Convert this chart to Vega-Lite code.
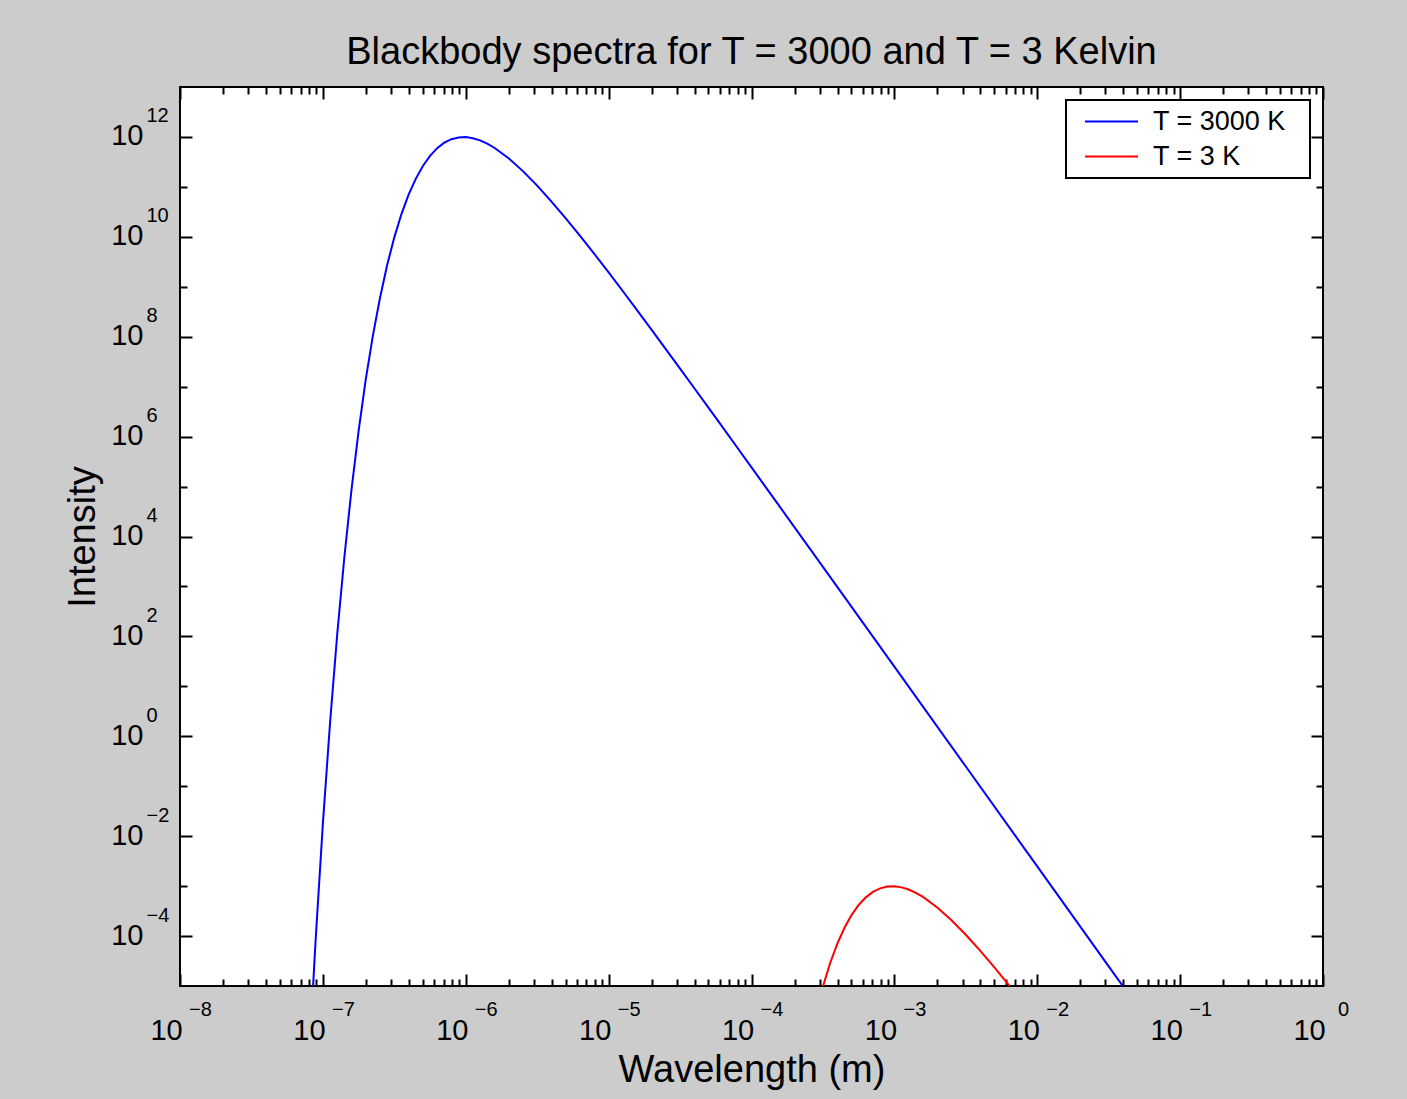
{
  "$schema": "https://vega.github.io/schema/vega-lite/v6.json",
  "width": 1143,
  "height": 899,
  "autosize": {"type": "none"},
  "padding": {"left": 180, "top": 87, "right": 84, "bottom": 113},
  "background": "#cccccc",
  "title": {
    "text": "Blackbody spectra for T = 3000 and T = 3 Kelvin",
    "font": "Liberation Sans",
    "fontSize": 38,
    "fontWeight": "normal",
    "color": "black",
    "anchor": "middle",
    "frame": "group",
    "baseline": "alphabetic",
    "offset": -16
  },
  "config": {
    "view": {"stroke": "black", "strokeWidth": 2, "fill": "white"},
    "axis": {
      "grid": false,
      "domain": false,
      "labelFont": "Liberation Sans",
      "labelColor": "black",
      "titleFont": "Liberation Sans",
      "titleColor": "black",
      "titleFontWeight": "normal",
      "labelFlush": false,
      "labelOverlap": false,
      "labelBound": false,
      "tickColor": "black",
      "tickWidth": 2
    },
    "legend": {
      "orient": "top-right",
      "offset": 13,
      "strokeColor": "black",
      "strokeWidth": 2,
      "fillColor": "white",
      "padding": 8,
      "rowPadding": 7,
      "symbolType": "M-5.3,0H5.3",
      "symbolSize": 100,
      "symbolOffset": 24,
      "symbolStrokeWidth": 2,
      "labelFont": "Liberation Sans",
      "labelFontSize": 27,
      "labelColor": "black",
      "labelOffset": 28,
      "titleOrient": "right",
      "titlePadding": 16,
      "titleFontSize": 2
    }
  },
  "data": {
    "values": [
      {"T": "T = 3000 K", "lam": 7.943e-8, "I": 2.29e-7},
      {"T": "T = 3000 K", "lam": 8.913e-8, "I": 9.12e-5},
      {"T": "T = 3000 K", "lam": 1e-7, "I": 1.78e-2},
      {"T": "T = 3000 K", "lam": 1.122e-7, "I": 1.82},
      {"T": "T = 3000 K", "lam": 1.259e-7, "I": 107},
      {"T": "T = 3000 K", "lam": 1.413e-7, "I": 3800},
      {"T": "T = 3000 K", "lam": 1.585e-7, "I": 85100},
      {"T": "T = 3000 K", "lam": 1.778e-7, "I": 1.29e6},
      {"T": "T = 3000 K", "lam": 1.995e-7, "I": 1.38e7},
      {"T": "T = 3000 K", "lam": 2.239e-7, "I": 1.05e8},
      {"T": "T = 3000 K", "lam": 2.512e-7, "I": 6.03e8},
      {"T": "T = 3000 K", "lam": 2.818e-7, "I": 2.72e9},
      {"T": "T = 3000 K", "lam": 3.162e-7, "I": 9.77e9},
      {"T": "T = 3000 K", "lam": 3.548e-7, "I": 2.86e10},
      {"T": "T = 3000 K", "lam": 3.981e-7, "I": 6.98e10},
      {"T": "T = 3000 K", "lam": 4.467e-7, "I": 1.45e11},
      {"T": "T = 3000 K", "lam": 5.012e-7, "I": 2.63e11},
      {"T": "T = 3000 K", "lam": 5.623e-7, "I": 4.19e11},
      {"T": "T = 3000 K", "lam": 6.31e-7, "I": 5.96e11},
      {"T": "T = 3000 K", "lam": 7.079e-7, "I": 7.66e11},
      {"T": "T = 3000 K", "lam": 7.943e-7, "I": 9.02e11},
      {"T": "T = 3000 K", "lam": 8.913e-7, "I": 9.79e11},
      {"T": "T = 3000 K", "lam": 1e-6, "I": 9.93e11},
      {"T": "T = 3000 K", "lam": 1.122e-6, "I": 9.44e11},
      {"T": "T = 3000 K", "lam": 1.259e-6, "I": 8.53e11},
      {"T": "T = 3000 K", "lam": 1.413e-6, "I": 7.35e11},
      {"T": "T = 3000 K", "lam": 1.585e-6, "I": 6.08e11},
      {"T": "T = 3000 K", "lam": 1.995e-6, "I": 3.74e11},
      {"T": "T = 3000 K", "lam": 2.512e-6, "I": 2.07e11},
      {"T": "T = 3000 K", "lam": 3.162e-6, "I": 1.06e11},
      {"T": "T = 3000 K", "lam": 3.981e-6, "I": 5.09e10},
      {"T": "T = 3000 K", "lam": 5.012e-6, "I": 2.35e10},
      {"T": "T = 3000 K", "lam": 6.31e-6, "I": 1.05e10},
      {"T": "T = 3000 K", "lam": 7.943e-6, "I": 4.54e9},
      {"T": "T = 3000 K", "lam": 1e-5, "I": 1.94e9},
      {"T": "T = 3000 K", "lam": 1.259e-5, "I": 8.13e8},
      {"T": "T = 3000 K", "lam": 1.585e-5, "I": 3.37e8},
      {"T": "T = 3000 K", "lam": 1.995e-5, "I": 1.39e8},
      {"T": "T = 3000 K", "lam": 2.512e-5, "I": 5.66e7},
      {"T": "T = 3000 K", "lam": 3.162e-5, "I": 2.3e7},
      {"T": "T = 3000 K", "lam": 3.981e-5, "I": 9.31e6},
      {"T": "T = 3000 K", "lam": 5.012e-5, "I": 3.75e6},
      {"T": "T = 3000 K", "lam": 6.31e-5, "I": 1.51e6},
      {"T": "T = 3000 K", "lam": 7.943e-5, "I": 6.05e5},
      {"T": "T = 3000 K", "lam": 1e-4, "I": 2.43e5},
      {"T": "T = 3000 K", "lam": 1.585e-4, "I": 3.87e4},
      {"T": "T = 3000 K", "lam": 3.162e-4, "I": 2470},
      {"T": "T = 3000 K", "lam": 1e-3, "I": 24.8},
      {"T": "T = 3000 K", "lam": 3.162e-3, "I": 0.248},
      {"T": "T = 3000 K", "lam": 1e-2, "I": 2.48e-3},
      {"T": "T = 3000 K", "lam": 3.162e-2, "I": 2.48e-5},
      {"T": "T = 3000 K", "lam": 5.012e-2, "I": 3.94e-6},
      {"T": "T = 3 K", "lam": 2.818e-4, "I": 2.72e-6},
      {"T": "T = 3 K", "lam": 3.162e-4, "I": 9.77e-6},
      {"T": "T = 3 K", "lam": 3.548e-4, "I": 2.86e-5},
      {"T": "T = 3 K", "lam": 3.981e-4, "I": 6.98e-5},
      {"T": "T = 3 K", "lam": 4.467e-4, "I": 1.45e-4},
      {"T": "T = 3 K", "lam": 5.012e-4, "I": 2.63e-4},
      {"T": "T = 3 K", "lam": 5.623e-4, "I": 4.19e-4},
      {"T": "T = 3 K", "lam": 6.31e-4, "I": 5.96e-4},
      {"T": "T = 3 K", "lam": 7.079e-4, "I": 7.66e-4},
      {"T": "T = 3 K", "lam": 7.943e-4, "I": 9.02e-4},
      {"T": "T = 3 K", "lam": 8.913e-4, "I": 9.79e-4},
      {"T": "T = 3 K", "lam": 1e-3, "I": 9.93e-4},
      {"T": "T = 3 K", "lam": 1.122e-3, "I": 9.44e-4},
      {"T": "T = 3 K", "lam": 1.259e-3, "I": 8.53e-4},
      {"T": "T = 3 K", "lam": 1.413e-3, "I": 7.35e-4},
      {"T": "T = 3 K", "lam": 1.585e-3, "I": 6.08e-4},
      {"T": "T = 3 K", "lam": 1.995e-3, "I": 3.74e-4},
      {"T": "T = 3 K", "lam": 2.512e-3, "I": 2.07e-4},
      {"T": "T = 3 K", "lam": 3.162e-3, "I": 1.06e-4},
      {"T": "T = 3 K", "lam": 3.981e-3, "I": 5.09e-5},
      {"T": "T = 3 K", "lam": 5.012e-3, "I": 2.35e-5},
      {"T": "T = 3 K", "lam": 6.31e-3, "I": 1.05e-5},
      {"T": "T = 3 K", "lam": 7.943e-3, "I": 4.54e-6}
    ]
  },
  "resolve": {"axis": {"x": "independent", "y": "independent"}},
  "layer": [
    {
      "mark": {"type": "line", "strokeWidth": 2, "clip": true},
      "encoding": {
        "x": {
          "field": "lam", "type": "quantitative",
          "scale": {"type": "log", "domain": [1e-8, 1], "nice": false},
          "axis": {
            "orient": "bottom",
            "values": [1e-8, 1e-7, 1e-6, 1e-5, 1e-4, 1e-3, 1e-2, 1e-1, 1],
            "ticks": false,
            "labelExpr": "'10'",
            "labelFontSize": 29,
            "labelBaseline": "middle",
            "labelAlign": "center",
            "labelPadding": 44,
            "labelOffset": -14,
            "title": "Wavelength (m)",
            "titleFontSize": 38,
            "titlePadding": 6
          }
        },
        "y": {
          "field": "I", "type": "quantitative",
          "scale": {"type": "log", "domain": [1e-5, 1e13], "nice": false},
          "axis": {
            "orient": "left",
            "values": [1e-4, 1e-2, 1, 100, 1e4, 1e6, 1e8, 1e10, 1e12],
            "ticks": false,
            "labelExpr": "'10'",
            "labelFontSize": 29,
            "labelBaseline": "middle",
            "labelAlign": "right",
            "labelPadding": 37,
            "labelOffset": -1,
            "title": "Intensity",
            "titleFontSize": 38,
            "titlePadding": 8
          }
        },
        "color": {
          "field": "T", "type": "nominal",
          "scale": {"domain": ["T = 3000 K", "T = 3 K"], "range": ["#0000ff", "#ff0000"]},
          "legend": {"title": "\u00a0"}
        }
      }
    },
    {
      "mark": {"type": "point", "opacity": 0, "clip": true},
      "encoding": {
        "x": {
          "field": "lam", "type": "quantitative",
          "scale": {"type": "log", "domain": [1e-8, 1], "nice": false},
          "axis": {
            "orient": "bottom",
            "values": [1e-8, 1e-7, 1e-6, 1e-5, 1e-4, 1e-3, 1e-2, 1e-1, 1],
            "ticks": false,
            "labelExpr": "format(round(log(datum.value)/LN10), 'd')",
            "labelFontSize": 20,
            "labelBaseline": "middle",
            "labelAlign": "center",
            "labelPadding": 23,
            "labelOffset": 20,
            "title": null
          }
        },
        "y": {
          "field": "I", "type": "quantitative",
          "scale": {"type": "log", "domain": [1e-5, 1e13], "nice": false},
          "axis": {
            "orient": "left",
            "values": [1e-4, 1e-2, 1, 100, 1e4, 1e6, 1e8, 1e10, 1e12],
            "ticks": false,
            "labelExpr": "format(round(log(datum.value)/LN10), 'd')",
            "labelFontSize": 20,
            "labelBaseline": "middle",
            "labelAlign": "left",
            "labelPadding": 34,
            "labelOffset": -21,
            "title": null
          }
        }
      }
    },
    {
      "mark": {"type": "point", "opacity": 0, "clip": true},
      "encoding": {
        "x": {
          "field": "lam", "type": "quantitative",
          "scale": {"type": "log", "domain": [1e-8, 1], "nice": false},
          "axis": {
            "orient": "bottom",
            "values": [1e-8, 1e-7, 1e-6, 1e-5, 1e-4, 1e-3, 1e-2, 1e-1, 1],
            "labels": false,
            "tickSize": -12,
            "title": null
          }
        },
        "y": {
          "field": "I", "type": "quantitative",
          "scale": {"type": "log", "domain": [1e-5, 1e13], "nice": false},
          "axis": {
            "orient": "left",
            "values": [1e-4, 1e-2, 1, 100, 1e4, 1e6, 1e8, 1e10, 1e12],
            "labels": false,
            "tickSize": -12,
            "title": null
          }
        }
      }
    },
    {
      "mark": {"type": "point", "opacity": 0, "clip": true},
      "encoding": {
        "x": {
          "field": "lam", "type": "quantitative",
          "scale": {"type": "log", "domain": [1e-8, 1], "nice": false},
          "axis": {
            "orient": "bottom",
            "values": [2e-8, 3e-8, 4e-8, 5e-8, 6e-8, 7e-8, 8e-8, 9e-8, 2e-7, 3e-7, 4e-7, 5e-7, 6e-7, 7e-7, 8e-7, 9e-7, 2e-6, 3e-6, 4e-6, 5e-6, 6e-6, 7e-6, 8e-6, 9e-6, 2e-5, 3e-5, 4e-5, 5e-5, 6e-5, 7e-5, 8e-5, 9e-5, 2e-4, 3e-4, 4e-4, 5e-4, 6e-4, 7e-4, 8e-4, 9e-4, 2e-3, 3e-3, 4e-3, 5e-3, 6e-3, 7e-3, 8e-3, 9e-3, 2e-2, 3e-2, 4e-2, 5e-2, 6e-2, 7e-2, 8e-2, 9e-2, 0.2, 0.3, 0.4, 0.5, 0.6, 0.7, 0.8, 0.9],
            "labels": false,
            "tickSize": -7,
            "title": null
          }
        },
        "y": {
          "field": "I", "type": "quantitative",
          "scale": {"type": "log", "domain": [1e-5, 1e13], "nice": false},
          "axis": {
            "orient": "left",
            "values": [1e-3, 1e-1, 10, 1000, 1e5, 1e7, 1e9, 1e11],
            "labels": false,
            "tickSize": -7,
            "title": null
          }
        }
      }
    },
    {
      "mark": {"type": "point", "opacity": 0, "clip": true},
      "encoding": {
        "x": {
          "field": "lam", "type": "quantitative",
          "scale": {"type": "log", "domain": [1e-8, 1], "nice": false},
          "axis": {
            "orient": "top",
            "values": [1e-8, 1e-7, 1e-6, 1e-5, 1e-4, 1e-3, 1e-2, 1e-1, 1],
            "labels": false,
            "tickSize": -12,
            "title": null
          }
        },
        "y": {
          "field": "I", "type": "quantitative",
          "scale": {"type": "log", "domain": [1e-5, 1e13], "nice": false},
          "axis": {
            "orient": "right",
            "values": [1e-4, 1e-2, 1, 100, 1e4, 1e6, 1e8, 1e10, 1e12],
            "labels": false,
            "tickSize": -12,
            "title": null
          }
        }
      }
    },
    {
      "mark": {"type": "point", "opacity": 0, "clip": true},
      "encoding": {
        "x": {
          "field": "lam", "type": "quantitative",
          "scale": {"type": "log", "domain": [1e-8, 1], "nice": false},
          "axis": {
            "orient": "top",
            "values": [2e-8, 3e-8, 4e-8, 5e-8, 6e-8, 7e-8, 8e-8, 9e-8, 2e-7, 3e-7, 4e-7, 5e-7, 6e-7, 7e-7, 8e-7, 9e-7, 2e-6, 3e-6, 4e-6, 5e-6, 6e-6, 7e-6, 8e-6, 9e-6, 2e-5, 3e-5, 4e-5, 5e-5, 6e-5, 7e-5, 8e-5, 9e-5, 2e-4, 3e-4, 4e-4, 5e-4, 6e-4, 7e-4, 8e-4, 9e-4, 2e-3, 3e-3, 4e-3, 5e-3, 6e-3, 7e-3, 8e-3, 9e-3, 2e-2, 3e-2, 4e-2, 5e-2, 6e-2, 7e-2, 8e-2, 9e-2, 0.2, 0.3, 0.4, 0.5, 0.6, 0.7, 0.8, 0.9],
            "labels": false,
            "tickSize": -7,
            "title": null
          }
        },
        "y": {
          "field": "I", "type": "quantitative",
          "scale": {"type": "log", "domain": [1e-5, 1e13], "nice": false},
          "axis": {
            "orient": "right",
            "values": [1e-3, 1e-1, 10, 1000, 1e5, 1e7, 1e9, 1e11],
            "labels": false,
            "tickSize": -7,
            "title": null
          }
        }
      }
    }
  ]
}
